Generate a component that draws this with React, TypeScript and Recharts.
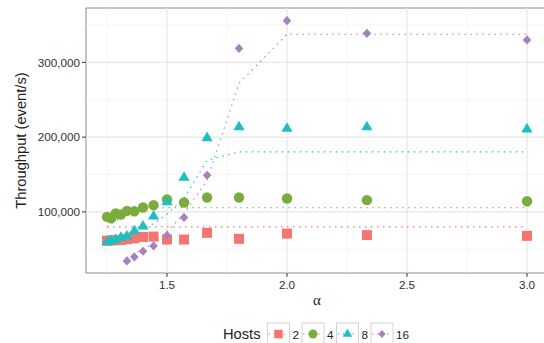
import React from 'react';
import { ScatterChart, Scatter, XAxis, YAxis, ReferenceLine, ReferenceArea, Legend } from 'recharts';

const alpha = [1.25, 1.267, 1.286, 1.308, 1.333, 1.364, 1.4, 1.444, 1.5, 1.571, 1.667, 1.8, 2.0, 2.333, 3.0];
const alpha16 = [1.333, 1.364, 1.4, 1.444, 1.5, 1.571, 1.667, 1.8, 2.0, 2.333, 3.0];

const hosts2 = [61500, 62000, 62000, 62500, 63500, 64500, 66500, 67000, 63000, 63000, 72000, 64000, 71000, 69000, 68000];
const hosts4 = [93300, 91300, 97900, 96500, 101300, 100800, 105900, 109000, 116600, 112600, 119300, 119300, 117900, 115700, 114300];
const hosts8 = [59800, 61200, 63100, 65700, 67500, 74600, 80900, 94200, 113400, 146000, 199000, 213500, 211600, 213500, 210700];
const hosts16 = [34400, 39800, 47400, 54500, 68800, 92500, 149000, 318700, 355700, 338800, 330000];

const model2 = [80000, 80000, 80000, 80000, 80000, 80000, 80000, 80000, 80000, 80000, 80000, 80000, 80000, 80000, 80000];
const model4 = [80000, 84000, 88000, 92000, 96000, 100000, 104000, 105600, 105600, 105600, 105600, 105600, 105600, 105600, 105600];
const model8 = [60000, 62000, 65000, 68000, 71000, 75000, 79000, 84000, 97000, 118000, 169000, 180300, 180300, 180300, 180300];
const model16 = [38000, 44000, 50000, 58000, 73000, 98000, 142000, 272000, 337500, 337500, 337500];

const xTicks = [1.5, 2.0, 2.5, 3.0];
const xMinor = [1.25, 1.75, 2.25, 2.75];
const yTicks = [100000, 200000, 300000];
const yMinor = [50000, 150000, 250000, 350000];
const xDomain = [1.1625, 3.0875];
const yDomain = [18300, 372700];

const hostLabels = ['2', '4', '8', '16'];
const colors = ['#F5766F', '#7AAD3E', '#1BBFC4', '#A780C0'];

const zip = (xs: number[], ys: number[]) => xs.map((x, i) => ({ x, y: ys[i] }));

const seriesPts = [zip(alpha, hosts2), zip(alpha, hosts4), zip(alpha, hosts8), zip(alpha16, hosts16)];
const seriesModel = [zip(alpha, model2), zip(alpha, model4), zip(alpha, model8), zip(alpha16, model16)];

const FONT = '"Liberation Sans", Arial, Helvetica, sans-serif';

function Glyph({ kind, cx, cy, color, s = 1 }: { kind: number; cx: number; cy: number; color: string; s?: number }) {
  if (kind === 0) return <rect x={cx - 5 * s} y={cy - 5 * s} width={10 * s} height={10 * s} fill={color} />;
  if (kind === 1) return <circle cx={cx} cy={cy} r={5.2 * s} fill={color} />;
  if (kind === 2)
    return (
      <polygon
        points={`${cx},${cy - 6.3 * s} ${cx - 5.6 * s},${cy + 3.3 * s} ${cx + 5.6 * s},${cy + 3.3 * s}`}
        fill={color}
      />
    );
  return (
    <polygon
      points={`${cx},${cy - 4.6 * s} ${cx + 4.3 * s},${cy} ${cx},${cy + 4.6 * s} ${cx - 4.3 * s},${cy}`}
      fill={color}
    />
  );
}

const legendLefts = [267.5, 302, 336.5, 371];

function LegendContent() {
  return (
    <svg width={560} height={25} style={{ display: 'block', fontFamily: FONT }}>
      <text x={223} y={21.3} fontSize={14.7} fill="#222">Hosts</text>
      {hostLabels.map((lab, i) => {
        const l = legendLefts[i];
        const cx = l + 11;
        return (
          <g key={lab}>
            <rect x={l} y={5} width={22} height={22} fill="#fff" stroke="#d4d4d4" strokeWidth={1} />
            <line x1={l + 1} x2={l + 21} y1={16} y2={16} stroke={colors[i]} strokeWidth={1.1} strokeDasharray="1.5 3.5" />
            <Glyph kind={i} cx={cx} cy={16} color={colors[i]} s={0.85} />
            <text x={l + 25} y={21.3} fontSize={11.7} fill="#222">{lab}</text>
          </g>
        );
      })}
    </svg>
  );
}

const fmt = (v: number) => v.toLocaleString('en-US');

export default function App() {
  return (
    <div style={{ position: 'absolute', left: 0, top: 0, width: 544, height: 343, overflow: 'hidden', background: '#fff' }}>
      <ScatterChart width={560} height={343} margin={{ top: 8, right: 12, bottom: 0, left: 0 }} style={{ fontFamily: FONT }}>
        <XAxis
          type="number"
          dataKey="x"
          domain={xDomain}
          ticks={xTicks}
          tickFormatter={(v: number) => v.toFixed(1)}
          allowDataOverflow
          axisLine={false}
          tickLine={{ stroke: '#333', strokeWidth: 1 }}
          tickSize={4}
          tickMargin={4}
          height={70}
          tick={{ fill: '#333', fontSize: 11.7 }}
          label={{ value: 'α', position: 'insideTop', offset: 21, style: { fontSize: 15, fill: '#222', fontFamily: '"Liberation Serif", "DejaVu Serif", serif' } }}
        />
        <YAxis
          type="number"
          dataKey="y"
          domain={yDomain}
          ticks={yTicks}
          tickFormatter={fmt}
          allowDataOverflow
          axisLine={false}
          tickLine={{ stroke: '#333', strokeWidth: 1 }}
          tickSize={4}
          tickMargin={2}
          width={86}
          tick={{ fill: '#333', fontSize: 11.7 }}
          label={{ value: 'Throughput (event/s)', angle: -90, position: 'insideLeft', offset: 21, style: { textAnchor: 'middle', fontSize: 14.7, fill: '#222' } }}
        />
        {xMinor.map((v) => (
          <ReferenceLine key={'xm' + v} x={v} stroke="#f3f3f3" strokeWidth={0.8} />
        ))}
        {yMinor.map((v) => (
          <ReferenceLine key={'ym' + v} y={v} stroke="#f3f3f3" strokeWidth={0.8} />
        ))}
        {xTicks.map((v) => (
          <ReferenceLine key={'xM' + v} x={v} stroke="#e6e6e6" strokeWidth={1.2} />
        ))}
        {yTicks.map((v) => (
          <ReferenceLine key={'yM' + v} y={v} stroke="#e6e6e6" strokeWidth={1.2} />
        ))}
        {seriesModel.map((d, i) => (
          <Scatter
            key={'m' + i}
            data={d}
            isAnimationActive={false}
            legendType="none"
            line={{ stroke: colors[i], strokeWidth: 1.1, strokeDasharray: '1.5 4.5' }}
            lineType="joint"
            shape={() => <g />}
          />
        ))}
        {seriesPts.map((d, i) => (
          <Scatter
            key={'p' + i}
            data={d}
            isAnimationActive={false}
            legendType="none"
            shape={(p: any) => <Glyph kind={i} cx={p.cx} cy={p.cy} color={colors[i]} />}
          />
        ))}
        <ReferenceArea x1={xDomain[0]} x2={xDomain[1]} y1={yDomain[0]} y2={yDomain[1]} fill="none" stroke="#8a8a8a" strokeWidth={1} ifOverflow="visible" />
        <Legend
          layout="vertical"
          verticalAlign="middle"
          align="center"
          content={() => <LegendContent />}
          wrapperStyle={{ position: 'absolute', top: 318, left: 0, width: 560, height: 25 }}
        />
      </ScatterChart>
    </div>
  );
}
